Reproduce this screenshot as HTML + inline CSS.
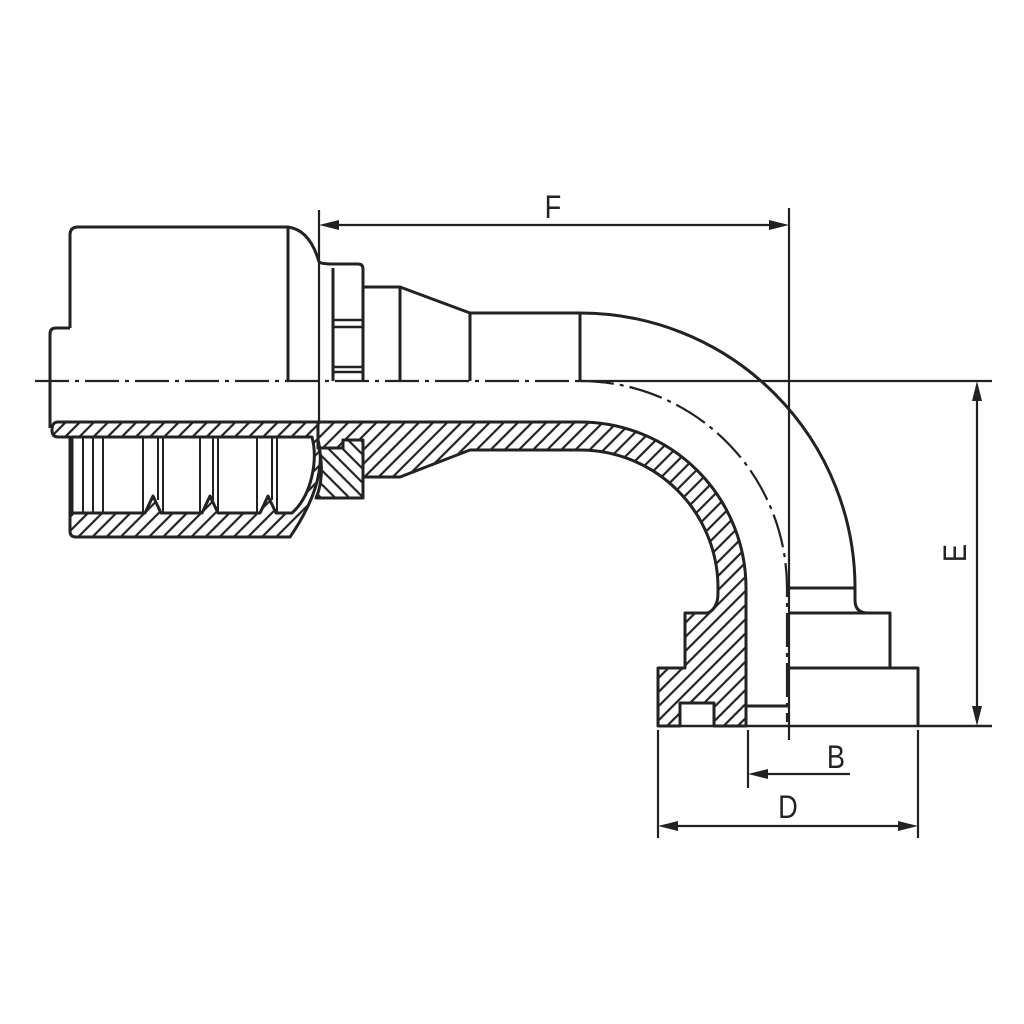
<!DOCTYPE html>
<html><head><meta charset="utf-8"><style>html,body{margin:0;padding:0;background:#fff}svg{display:block}</style></head><body>
<svg width="1024" height="1024" viewBox="0 0 1024 1024" xmlns="http://www.w3.org/2000/svg">
<defs>
<pattern id="h1" patternUnits="userSpaceOnUse" width="10" height="10" patternTransform="rotate(45)"><line x1="5" y1="0" x2="5" y2="10" stroke="#222" stroke-width="2.2"/></pattern>
<pattern id="h2" patternUnits="userSpaceOnUse" width="10" height="10" patternTransform="rotate(-45)"><line x1="5" y1="0" x2="5" y2="10" stroke="#222" stroke-width="2.2"/></pattern>
</defs>
<g fill="none" stroke="#222" stroke-width="3" stroke-linejoin="round">
<!-- ferrule hatched -->
<path fill="url(#h1)" fill-rule="evenodd" d="M58,422 L318,422 L318,440 C326,470 312,505 290,537 L76,537 Q70,537 70,531 L70,437 L58,437 Q52,437 52,430 Q52,422 58,422 Z M72,437 L312,437 C318,460 312,495 292,513 L276,513 L268,496 L260,513 L218,513 L210,496 L202,513 L161,513 L153,496 L145,513 L72,513 Z"/>
<!-- nut hatched -->
<path fill="url(#h2)" d="M319,448 L343,448 L343,440 L360,440 Q363,440 363,443 L363,498 L316,498 C322,485 323,465 319,448 Z"/>
<!-- body hatched -->
<path fill="url(#h1)" d="M318,422 L580,422 A166,166 0 0 1 746,588 L746,726 L714,726 L714,703 L680,703 L680,726 L658,726 L658,668 L685,668 L685,613 L708,613 Q718,608 718,593 L718,588 A138,138 0 0 0 580,450 L470,450 L400,477 L363,477 L363,440 L343,440 L343,448 L318,448 Z"/>
<!-- ferrule socket lines -->
<g stroke-width="2">
<line x1="83" y1="437" x2="83" y2="513"/><line x1="93" y1="437" x2="93" y2="513"/><line x1="103" y1="437" x2="103" y2="513"/>
<line x1="143" y1="437" x2="143" y2="513"/><line x1="158" y1="437" x2="158" y2="500"/><line x1="163" y1="437" x2="163" y2="513"/>
<line x1="200" y1="437" x2="200" y2="513"/><line x1="213" y1="437" x2="213" y2="500"/><line x1="218" y1="437" x2="218" y2="513"/>
<line x1="257" y1="437" x2="257" y2="513"/><line x1="272" y1="437" x2="272" y2="500"/><line x1="277" y1="437" x2="277" y2="513"/>
</g>
<!-- ferrule outer -->
<path d="M70,328 L70,235 Q70,227 78,227 L288,227 Q310,230 319,262"/>
<path d="M70,328 L56,328 Q50,328 50,334 L50,428"/>
<line x1="288" y1="227" x2="288" y2="381"/>
<!-- hex -->
<path d="M319,262 Q322,264 333,264 L358,264 Q363,264 363,269 L363,381"/>
<line x1="333" y1="268" x2="333" y2="381"/>
<g stroke-width="2.5"><line x1="333" y1="320" x2="363" y2="320"/><line x1="333" y1="327" x2="363" y2="327"/><line x1="333" y1="367" x2="363" y2="367"/><line x1="333" y1="372" x2="363" y2="372"/></g>
<path d="M363,287 L400,287 L470,313 L580,313 A275,275 0 0 1 855,588 L855,600 Q855,613 868,613 L890,613 L890,668 L918,668 L918,726"/>
<line x1="400" y1="287" x2="400" y2="381"/>
<line x1="470" y1="313" x2="470" y2="381"/>
<line x1="580" y1="313" x2="580" y2="381"/>
<line x1="788" y1="588" x2="855" y2="588"/>
<line x1="788" y1="613" x2="868" y2="613"/>
<line x1="788" y1="668" x2="918" y2="668"/>
<line x1="746" y1="706" x2="788" y2="706"/>
</g>
<g fill="none" stroke="#222" stroke-width="2.2">
<!-- centerline -->
<line x1="35" y1="381" x2="578" y2="381" stroke-dasharray="34,6,4,6"/>
<line x1="578" y1="381" x2="992" y2="381"/>
<path d="M580,381 A207,207 0 0 1 787,588 L787,722" stroke-dasharray="34,6,4,6"/>
<line x1="658" y1="726" x2="992" y2="726" stroke-width="2.5"/>
<!-- F -->
<line x1="319" y1="210" x2="319" y2="422"/>
<line x1="789" y1="208" x2="789" y2="740"/>
<line x1="330" y1="225" x2="778" y2="225"/>
<!-- E -->
<line x1="977" y1="392" x2="977" y2="716"/>
<!-- D -->
<line x1="658" y1="730" x2="658" y2="838"/>
<line x1="918" y1="730" x2="918" y2="838"/>
<line x1="668" y1="826" x2="908" y2="826"/>
<!-- B -->
<line x1="748" y1="730" x2="748" y2="788"/>
<line x1="760" y1="774" x2="850" y2="774"/>
</g>
<g fill="#222">
<polygon points="319,225 339,220 339,230"/>
<polygon points="789,225 769,220 769,230"/>
<polygon points="977,381 972,401 982,401"/>
<polygon points="977,726 972,706 982,706"/>
<polygon points="658,826 678,821 678,831"/>
<polygon points="918,826 898,821 898,831"/>
<polygon points="748,774 768,769 768,779"/>
</g>
<g font-family="Liberation Sans, sans-serif" font-size="32" fill="#222">
<text x="553" y="218" text-anchor="middle" transform="translate(553,0) scale(0.85,1) translate(-553,0)">F</text>
<text x="836" y="768" text-anchor="middle" transform="translate(836,0) scale(0.85,1) translate(-836,0)">B</text>
<text x="788" y="818" text-anchor="middle" transform="translate(788,0) scale(0.85,1) translate(-788,0)">D</text>
<text x="0" y="0" text-anchor="middle" transform="translate(966,553) rotate(-90) scale(0.85,1)">E</text>
</g>
</svg>
</body></html>
